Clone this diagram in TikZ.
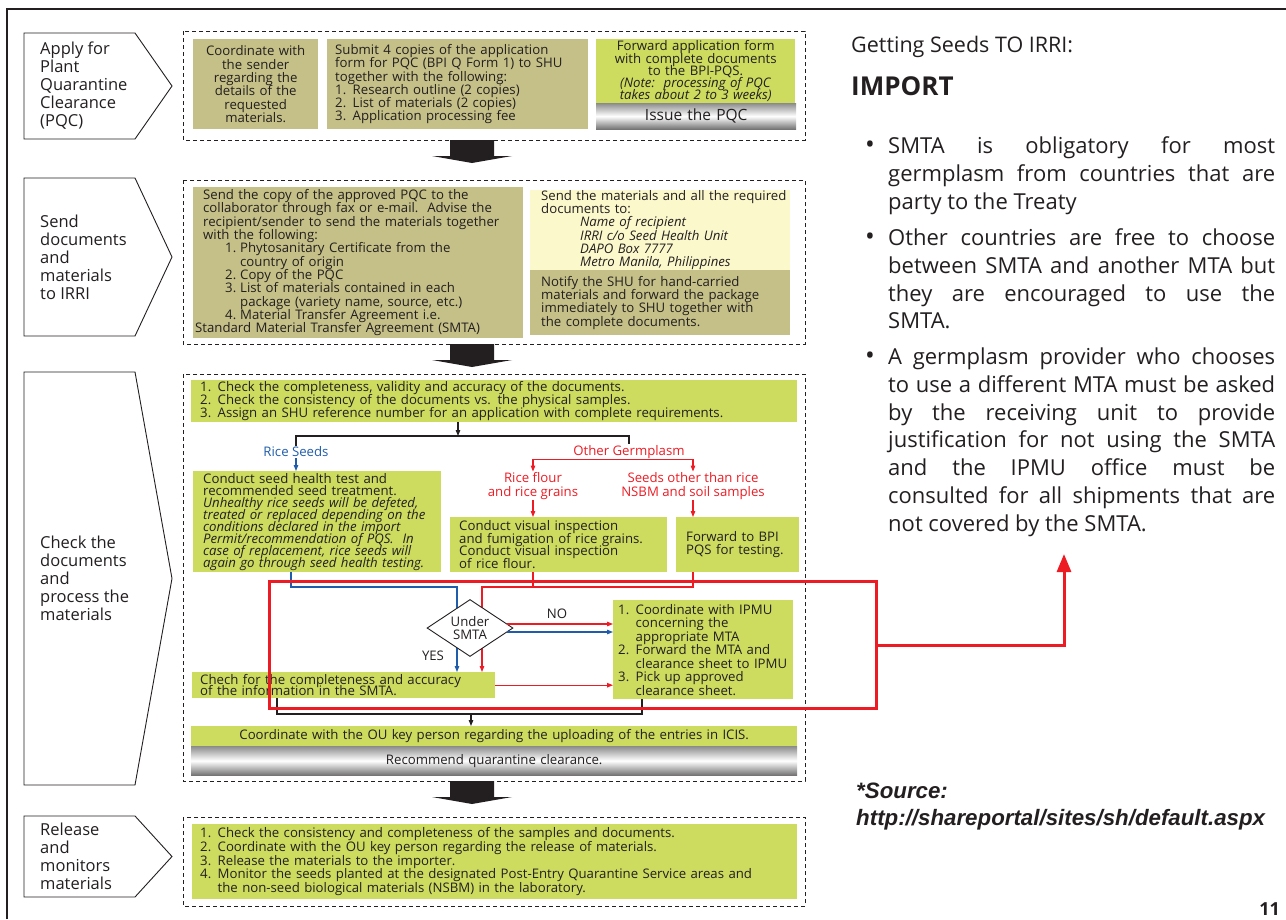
\documentclass[tikz,border=0pt]{standalone}
\usepackage{fontspec}
\setmainfont{Open Sans}
\newfontfamily\sourcefont{Liberation Sans}
\usetikzlibrary{arrows.meta,shapes.geometric}

\definecolor{boxlime}{HTML}{CDDC5F}
\definecolor{boxolive}{HTML}{C5C087}
\definecolor{boxcream}{HTML}{FBF8CC}
\definecolor{flowred}{HTML}{ED1C24}
\definecolor{flowblue}{HTML}{1F5CAB}
\definecolor{ink}{HTML}{231F20}

% tight leading in the boxes: never fall back to \lineskip
\newcommand\flowfont{\fontsize{13.2}{13.3}\selectfont\lineskiplimit=-6pt}
\newcommand\itemno[1]{\makebox[17.5pt][l]{#1}}

\tikzset{
  panel/.style={draw=ink, line width=0.9pt, dash pattern=on 4pt off 3pt},
  stageshape/.style={draw=ink, line width=0.9pt, fill=white},
  stagetext/.style={anchor=west, align=left, inner sep=0pt, font=\fontsize{16.5}{18}\selectfont, text=ink},
  box/.style={anchor=north west, inner sep=0pt, align=left, font=\flowfont, text=ink},
  textpad/.style={execute at begin node={\leftskip=#1}},
  olivebox/.style={box, fill=boxolive},
  limebox/.style={box, fill=boxlime},
  creambox/.style={box, fill=boxcream},
  metalbar/.style={box, align=center, top color=black!45, bottom color=black!55, middle color=white},
  flowlabel/.style={inner sep=1pt, align=center, font=\flowfont},
  decision/.style={diamond, draw=ink, line width=0.9pt, fill=white, aspect=1.5, inner sep=0pt,
    minimum width=86pt, minimum height=57pt, align=center, font=\flowfont, text=ink},
  smalltip/.style={-{Triangle[length=6pt,width=4.5pt]}},
  blackline/.style={draw=ink, line width=1.1pt},
  redline/.style={draw=flowred, line width=1.1pt},
  blueline/.style={draw=flowblue, line width=1.1pt},
  highlight/.style={draw=flowred, line width=3pt, anchor=north west, inner sep=0pt,
    minimum width=607pt, minimum height=127pt},
  note/.style={anchor=base west, inner sep=0pt, font=\fontsize{22}{27.8}\selectfont, text=ink}
}

\begin{document}
\begin{tikzpicture}[x=1pt,y=-1pt]
  \useasboundingbox (0,0) rectangle (1286,919);

  % page frame, open to the right and below
  \draw[ink, line width=2.2pt] (7,919) -- (7,9) -- (1286,9);

  % stage labels on the left
  \foreach \ytop/\ybot/\txt [count=\i] in {
      33/139/{Apply for\\Plant\\Quarantine\\Clearance\\(PQC)},
      178/336/{Send\\documents\\and\\materials\\to IRRI},
      372/785/{Check the\\documents\\and\\process the\\materials},
      816/897/{Release\\and\\monitors\\materials}} {
    \draw[stageshape] (24,\ytop) -- (135,\ytop) -- (172,{(\ytop+\ybot)/2}) -- (135,\ybot) -- (24,\ybot) -- cycle;
    \node[stagetext] (stage\i) at (40,{(\ytop+\ybot)/2}) {\txt};
  }

  % dashed panels and the big arrows between them
  \foreach \ytop/\ybot in {31/140,180/344,374/781,817/906}
    \draw[panel] (183,\ytop) rectangle (805,\ybot);
  \foreach \y in {140,344,781}
    \fill[ink] (450,\y) -- (494,\y) -- (494,\y+16) -- (512,\y+16) -- (472,\y+23)
      -- (432,\y+16) -- (450,\y+16) -- cycle;

  % stage 1
  \node[olivebox, align=center, text width=125pt, minimum height=90pt] (sender) at (193,39)
    {Coordinate with\\the sender\\regarding the\\details of the\\requested\\materials.};
  \node[olivebox, textpad=8pt, text width=261pt, minimum height=90pt] (submit) at (327,39)
    {Submit 4 copies of the application\\form for PQC (BPI Q Form 1) to SHU\\together with the following:\\
     \itemno{1.}Research outline (2 copies)\\\itemno{2.}List of materials (2 copies)\\\itemno{3.}Application processing fee};
  \node[limebox, align=center, text width=199pt, minimum height=64pt, font=\flowfont\fontsize{13.2}{12.2}\selectfont] (forward) at (596,39)
    {Forward application form\\with complete documents\\to the BPI-PQS.\\
     \textit{(Note:\ \ processing of PQC}\\\textit{takes about 2 to 3 weeks)}};
  \node[metalbar, text width=200pt, minimum height=26pt, font=\fontsize{15.5}{16}\selectfont] (issue) at (596,103) {Issue the PQC};

  % stage 2
  \node[olivebox, textpad=10pt, text width=330pt, minimum height=151pt] (sendcopy) at (193,187)
    {Send the copy of the approved PQC to the\\
     collaborator through fax or e-mail.\ \ Advise the\\
     recipient/sender to send the materials together\\
     with the following:\\
     \hspace*{22pt}\makebox[15pt][l]{1.}Phytosanitary Certificate from the\\
     \hspace*{37pt}country of origin\\
     \hspace*{22pt}\makebox[15pt][l]{2.}Copy of the PQC\\
     \hspace*{22pt}\makebox[15pt][l]{3.}List of materials contained in each\\
     \hspace*{37pt}package (variety name, source, etc.)\\
     \hspace*{22pt}\makebox[15pt][l]{4.}Material Transfer Agreement i.e.\\
     \hspace*{-8pt}Standard Material Transfer Agreement (SMTA)};
  \node[creambox, textpad=11pt, text width=260pt, minimum height=80pt] (address) at (530,190)
    {Send the materials and all the required\\documents to:\\
     \hspace*{39pt}\textit{Name of recipient}\\
     \hspace*{39pt}\textit{IRRI c/o Seed Health Unit}\\
     \hspace*{39pt}\textit{DAPO Box 7777}\\
     \hspace*{39pt}\textit{Metro Manila, Philippines}};
  \node[olivebox, textpad=11pt, text width=260pt, minimum height=65pt] (notify) at (530,270)
    {Notify the SHU for hand-carried\\materials and forward the package\\immediately to SHU together with\\the complete documents.};

  % stage 3
  \node[limebox, textpad=9pt, text width=606pt, minimum height=42pt] (checks) at (191,380)
    {\itemno{1.}Check the completeness, validity and accuracy of the documents.\\
     \itemno{2.}Check the consistency of the documents vs. the physical samples.\\
     \itemno{3.}Assign an SHU reference number for an application with complete requirements.};
  \node[limebox, textpad=10pt, text width=248pt, minimum height=101pt, font=\flowfont\fontsize{13.2}{12}\selectfont] (health) at (193,471)
    {Conduct seed health test and\\recommended seed treatment.\\
     \textit{Unhealthy rice seeds will be defeted,}\\
     \textit{treated or replaced depending on the}\\
     \textit{conditions declared in the import}\\
     \textit{Permit/recommendation of PQS.\ \ In}\\
     \textit{case of replacement, rice seeds will}\\
     \textit{again go through seed health testing.}};
  \node[limebox, textpad=9pt, text width=217pt, minimum height=55pt, font=\flowfont\fontsize{13.2}{12.5}\selectfont] (visual) at (450,517)
    {Conduct visual inspection\\and fumigation of rice grains.\\Conduct visual inspection\\of rice flour.};
  \node[limebox, textpad=10pt, text width=123pt, minimum height=55pt] (bpi) at (676,517)
    {Forward to BPI\\PQS for testing.};
  \node[limebox, textpad=8pt, text width=303pt, minimum height=26pt, font=\flowfont\fontsize{13.2}{11.5}\selectfont] (chech) at (192,672)
    {Chech for the completeness and accuracy\\of the information in the SMTA.};
  \node[limebox, textpad=5pt, text width=180pt, minimum height=99pt, font=\flowfont\fontsize{13.2}{13.5}\selectfont] (ipmu) at (613,600)
    {\itemno{1.}Coordinate with IPMU\\\hspace*{17.5pt}concerning the\\\hspace*{17.5pt}appropriate MTA\\
     \itemno{2.}Forward the MTA and\\\hspace*{17.5pt}clearance sheet to IPMU\\
     \itemno{3.}Pick up approved\\\hspace*{17.5pt}clearance sheet.};
  \node[limebox, align=center, text width=606pt, minimum height=20pt] (icis) at (191,726)
    {Coordinate with the OU key person regarding the uploading of the entries in ICIS.};
  \node[metalbar, text width=606pt, minimum height=29pt] (recommend) at (191,746) {Recommend quarantine clearance.};

  % stage 4
  \node[limebox, textpad=8pt, text width=605pt, minimum height=75pt, font=\flowfont\fontsize{13.2}{13.7}\selectfont] (release) at (192,824)
    {\itemno{1.}Check the consistency and completeness of the samples and documents.\\
     \itemno{2.}Coordinate with the OU key person regarding the release of materials.\\
     \itemno{3.}Release the materials to the importer.\\
     \itemno{4.}Monitor the seeds planted at the designated Post-Entry Quarantine Service areas and\\
     \hspace*{17.5pt}the non-seed biological materials (NSBM) in the laboratory.};

  % branch labels
  \node[flowlabel, text=flowblue] (riceseeds) at (296,452) {Rice Seeds};
  \node[flowlabel, text=flowred] (other) at (629,452) {Other Germplasm};
  \node[flowlabel, text=flowred] (flour) at (533,486) {Rice flour\\and rice grains};
  \node[flowlabel, text=flowred] (nonrice) at (693,486) {Seeds other than rice\\NSBM and soil samples};
  \node[flowlabel, text=ink] (no) at (557,614) {NO};
  \node[flowlabel, text=ink] (yes) at (433,656) {YES};

  % routing points
  \coordinate (split) at (458,436);
  \coordinate (bluefoot) at (291,587);
  \coordinate (bluebend) at (457,587);
  \coordinate (redbend) at (482,587);
  \coordinate (joinl) at (277,714);
  \coordinate (joinr) at (642,714);
  \coordinate (join) at (471,714);

  % black connectors
  \draw[blackline, smalltip] (checks.south -| split) -- (split);
  \draw[blackline] (riceseeds.north) |- (split) -| (other.north);
  \draw[blackline] (joinl |- chech.south) |- (joinr) -- (joinr |- ipmu.south);
  \draw[blackline, smalltip] (join) -- (join |- icis.north);

  % rice seeds branch
  \draw[blueline, smalltip] (riceseeds.south) -- (riceseeds.south |- health.north);
  \draw[blueline, smalltip] (bluefoot |- health.south) -- (bluefoot) -- (bluebend) -- (bluebend |- chech.north);

  % other germplasm branch
  \draw[redline, {Triangle[length=6pt,width=4.5pt]}-{Triangle[length=6pt,width=4.5pt]}]
    (flour.north) |- (other.south) -| (nonrice.north);
  \draw[redline, smalltip] (flour.south) -- (flour.south |- visual.north);
  \draw[redline, smalltip] (nonrice.south) -- (nonrice.south |- bpi.north);
  \draw[redline] (flour.south |- visual.south) -- (flour.south |- redbend);
  \draw[redline, smalltip] (nonrice.south |- bpi.south) |- (redbend) -- (redbend |- chech.north);

  % SMTA decision
  \node[decision] (smtaq) at (470,628) {Under\\SMTA};
  \draw[redline, smalltip] ([shift={(-6pt,4pt)}]smtaq.east) -- ([yshift=4pt]smtaq.east -| ipmu.west);
  \draw[blueline, smalltip] ([shift={(-6pt,-4pt)}]smtaq.east) -- ([yshift=-4pt]smtaq.east -| ipmu.west);
  \draw[redline, smalltip] (chech.east) -- (chech.east -| ipmu.west);

  % notes on the right
  \node[note, font=\fontsize{21.5}{27.8}\selectfont] (getting) at (851,52.5) {Getting Seeds TO IRRI:};
  \node[note, font=\fontsize{26}{30}\selectfont\bfseries] (import) at (851,95) {IMPORT};
  \foreach \y/\j/\txt [count=\i] in {
      153/s/{SMTA is obligatory for most},
      181/s/{germplasm from countries that are},
      209/l/{party to the Treaty},
      245.5/s/{Other countries are free to choose},
      273.3/s/{between SMTA and another MTA but},
      301.1/s/{they are encouraged to use the},
      328.9/l/{SMTA.},
      364.4/s/{A germplasm provider who chooses},
      392.2/s/{to use a different MTA must be asked},
      420/s/{by the receiving unit to provide},
      447.8/s/{justification for not using the SMTA},
      475.6/s/{and the IPMU office must be},
      503.4/s/{consulted for all shipments that are},
      531.2/l/{not covered by the SMTA.}}
    \node[note] (line\i) at (888,\y) {\makebox[387pt][\j]{\txt}};
  \foreach \y [count=\i] in {153,245.5,364.4}
    \node[note, anchor=base, font=\fontsize{26}{26}\selectfont] (dot\i) at (870,\y) {\textbullet};

  \node[note, font=\sourcefont\fontsize{22.3}{27}\selectfont\bfseries\itshape] (source) at (856,798) {*Source:};
  \node[note, font=\sourcefont\fontsize{22.3}{27}\selectfont\bfseries\itshape] (url) at (856,825) {http://shareportal/sites/sh/default.aspx};
  \node[note, anchor=base east, font=\fontsize{18}{18}\selectfont\bfseries] (page) at (1280,915) {11};

  % red frame around the SMTA check, pointing to the notes
  \node[highlight] (smta) at (268,580) {};
  \coordinate (notetip) at (1064,554);
  \draw[flowred, line width=3pt, -{Triangle[length=18pt,width=14pt]}] (smta.east) -| (notetip);
\end{tikzpicture}
\end{document}
